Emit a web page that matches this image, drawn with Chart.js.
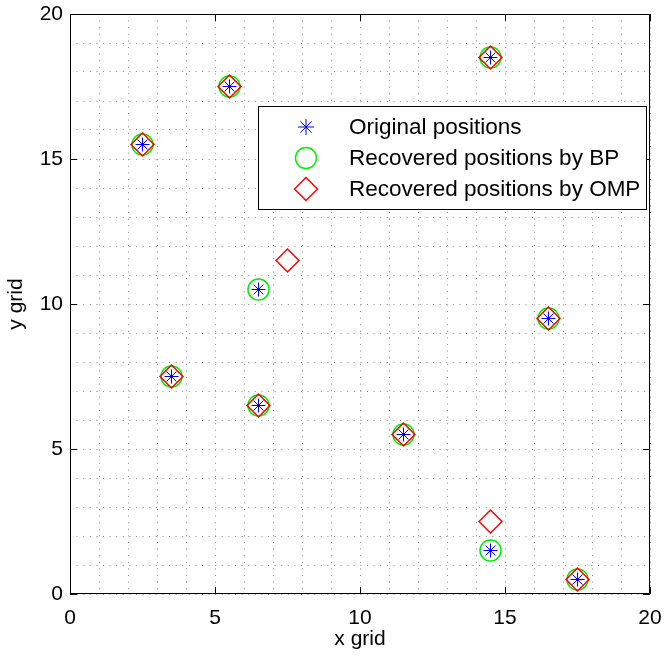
<!DOCTYPE html>
<html>
<head>
<meta charset="utf-8">
<script src="https://cdn.jsdelivr.net/npm/chart.js@4.4.0/dist/chart.umd.min.js"></script>
<style>
html, body { margin: 0; padding: 0; background: #fff; }
</style>
</head>
<body>
<canvas id="scatter" width="664" height="658"></canvas>
<script>
// positions
var origX = [2.5, 5.5, 14.5, 6.5, 16.5, 3.5, 6.5, 11.5, 14.5, 17.5];
var origY = [15.5, 17.5, 18.5, 10.5, 9.5, 7.5, 6.5, 5.5, 1.5, 0.5];
var bpX = [2.5, 5.5, 14.5, 6.5, 16.5, 3.5, 6.5, 11.5, 14.5, 17.5];
var bpY = [15.5, 17.5, 18.5, 10.5, 9.5, 7.5, 6.5, 5.5, 1.5, 0.5];
var ompX = [2.5, 5.5, 14.5, 7.5, 16.5, 3.5, 6.5, 11.5, 14.5, 17.5];
var ompY = [15.5, 17.5, 18.5, 11.5, 9.5, 7.5, 6.5, 5.5, 2.5, 0.5];
var seriesNames = ["Original positions", "Recovered positions by BP", "Recovered positions by OMP"];
var majorTicks = [0, 5, 10, 15, 20];

var FONT = "'Liberation Sans', Arial, Helvetica, sans-serif";

function toPoints(xs, ys) {
    var pts = [];
    for (var i = 0; i < xs.length; i++) {
        pts.push({ x: xs[i], y: ys[i] });
    }
    return pts;
}

// box, inner tick marks and the legend, MATLAB style
var matlabFrame = {
    id: 'matlabFrame',
    afterDraw: function (chart) {
        var ctx = chart.ctx;
        var a = chart.chartArea;
        var xs = chart.scales.x, ys = chart.scales.y;
        ctx.save();
        ctx.strokeStyle = '#000';
        ctx.lineWidth = 1;
        ctx.strokeRect(a.left + 0.5, a.top + 0.5, a.right - a.left - 1, a.bottom - a.top - 1);

        var tl = 7;
        ctx.beginPath();
        for (var i = 0; i < majorTicks.length; i++) {
            var px = Math.round(xs.getPixelForValue(majorTicks[i])) + 0.5;
            ctx.moveTo(px, a.bottom); ctx.lineTo(px, a.bottom - tl);
            ctx.moveTo(px, a.top); ctx.lineTo(px, a.top + tl);
            var py = Math.round(ys.getPixelForValue(majorTicks[i])) + 0.5;
            ctx.moveTo(a.left, py); ctx.lineTo(a.left + tl, py);
            ctx.moveTo(a.right, py); ctx.lineTo(a.right - tl, py);
        }
        ctx.stroke();

        // legend
        var lx = a.left + 188, ly = a.top + 92, lw = 388, lh = 103;
        ctx.fillStyle = '#fff';
        ctx.fillRect(lx, ly, lw, lh);
        ctx.strokeStyle = '#000';
        ctx.lineWidth = 1;
        ctx.strokeRect(lx + 0.5, ly + 0.5, lw, lh);

        var ds = chart.data.datasets;
        for (var j = 0; j < ds.length; j++) {
            var cy = ly + 21 + j * 31;
            var cx = lx + 48;
            ctx.strokeStyle = ds[j].borderColor;
            ctx.fillStyle = 'rgba(0,0,0,0)';
            ctx.lineWidth = ds[j].borderWidth;
            Chart.helpers.drawPoint(ctx, {
                pointStyle: ds[j].pointStyle,
                radius: ds[j].legendRadius,
                rotation: 0,
                borderWidth: ds[j].borderWidth
            }, cx, cy);
            ctx.fillStyle = '#000';
            ctx.font = '22.5px ' + FONT;
            ctx.textBaseline = 'middle';
            ctx.textAlign = 'left';
            ctx.fillText(ds[j].label, lx + 91, cy + 1);
        }
        ctx.restore();
    }
};

var ctx = document.getElementById("scatter").getContext("2d");
new Chart(ctx, {
    type: 'scatter',
    data: {
        datasets: [{
            label: seriesNames[0],
            data: toPoints(origX, origY),
            pointStyle: 'star',
            radius: 7,
            legendRadius: 8,
            borderColor: '#0000ff',
            backgroundColor: 'rgba(0,0,0,0)',
            borderWidth: 1,
            order: 0
        },
        {
            label: seriesNames[1],
            data: toPoints(bpX, bpY),
            pointStyle: 'circle',
            radius: 10.5,
            legendRadius: 10.5,
            borderColor: '#00ee00',
            backgroundColor: 'rgba(0,0,0,0)',
            borderWidth: 1.5,
            order: 2
        },
        {
            label: seriesNames[2],
            data: toPoints(ompX, ompY),
            pointStyle: 'rectRot',
            radius: 11.5,
            legendRadius: 11.5,
            borderColor: '#ff0000',
            backgroundColor: 'rgba(0,0,0,0)',
            borderWidth: 1.5,
            order: 1
        }]
    },
    options: {
        responsive: false,
        animation: false,
        events: [],
        layout: { padding: { top: 14, right: 14, left: 0, bottom: 0 } },
        plugins: {
            legend: { display: false },
            tooltip: { enabled: false }
        },
        elements: { point: { hoverRadius: 0 } },
        scales: {
            x: {
                type: 'linear',
                min: 0,
                max: 20,
                afterFit: function (scale) {
                    scale.height = 64;
                    scale.paddingLeft = 0;
                    scale.paddingRight = 0;
                },
                border: { display: false, dash: [1, 5.6] },
                grid: {
                    color: '#8a8a8a',
                    lineWidth: 1,
                    drawTicks: false
                },
                ticks: {
                    stepSize: 1,
                    autoSkip: false,
                    maxRotation: 0,
                    padding: 12,
                    color: '#000',
                    font: { family: FONT, size: 21 },
                    callback: function (v) { return v % 5 === 0 ? v : ''; }
                },
                title: {
                    display: true,
                    text: 'x grid',
                    color: '#000',
                    font: { family: FONT, size: 21 },
                    padding: { top: 0, bottom: 6 }
                }
            },
            y: {
                type: 'linear',
                min: 0,
                max: 20,
                afterFit: function (scale) {
                    scale.width = 70;
                    scale.paddingTop = 0;
                    scale.paddingBottom = 0;
                },
                border: { display: false, dash: [1, 5.6] },
                grid: {
                    color: '#8a8a8a',
                    lineWidth: 1,
                    drawTicks: false
                },
                ticks: {
                    stepSize: 1,
                    autoSkip: false,
                    padding: 7,
                    color: '#000',
                    font: { family: FONT, size: 21 },
                    callback: function (v) { return v % 5 === 0 ? v : ''; }
                },
                title: {
                    display: true,
                    text: 'y grid',
                    color: '#000',
                    font: { family: FONT, size: 21 },
                    padding: { top: 4, bottom: 0 }
                }
            }
        }
    },
    plugins: [matlabFrame]
});
</script>
</body>
</html>
